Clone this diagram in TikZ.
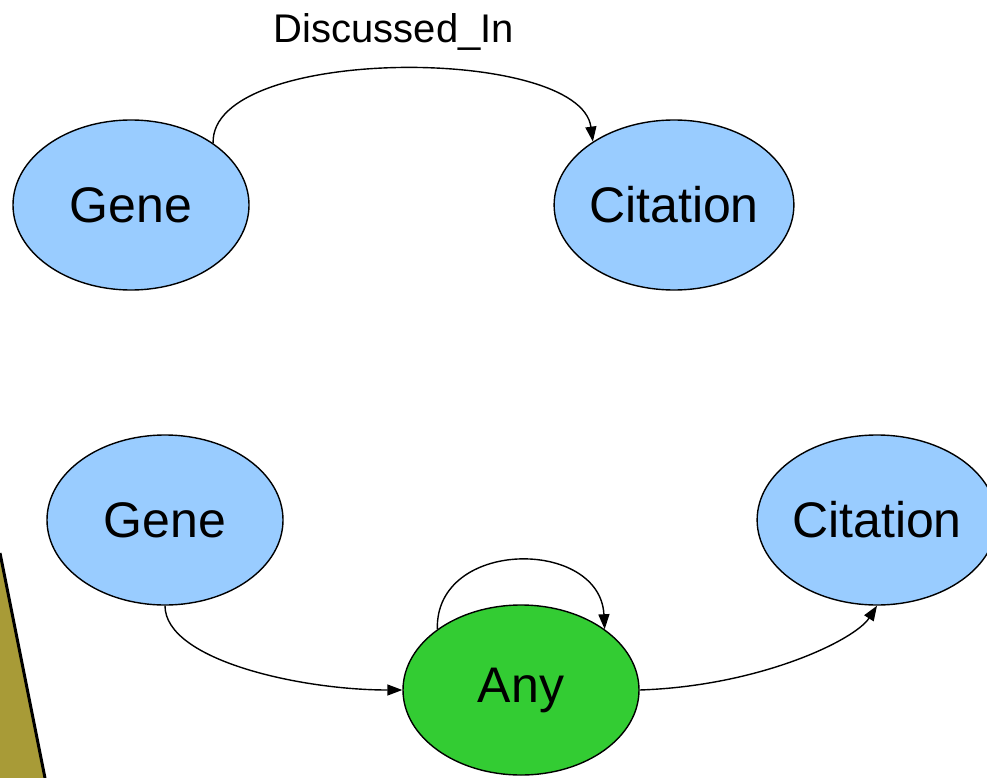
\documentclass[tikz,border=0pt]{standalone}
\usepackage{fontspec}
\setmainfont{Liberation Sans}
\usetikzlibrary{shapes.geometric,arrows.meta}
\definecolor{nodeblue}{HTML}{99CCFF}
\definecolor{nodegreen}{HTML}{33CC33}
\definecolor{olivebar}{HTML}{A89B37}
\tikzset{
  ent/.style={ellipse,draw=black,line width=1.4pt,minimum width=236pt,minimum height=170pt,inner sep=0pt,
    font=\fontsize{50}{60}\selectfont},
  bluent/.style={ent,fill=nodeblue},
  greenent/.style={ent,fill=nodegreen},
  rel/.style={line width=1.4pt,-{Triangle[length=15pt,width=11pt]}},
  lbl/.style={font=\fontsize{40}{48}\selectfont,inner sep=0pt}
}
\begin{document}
\begin{tikzpicture}[x=1pt,y=-1pt]
\useasboundingbox (0,0) rectangle (987,778);
\clip (0,0) rectangle (987,778);
\fill[white] (0,0) rectangle (987,778);
% olive bar at bottom left
\fill[olivebar] (0,553) -- (45,778) -- (0,778) -- cycle;
\draw[line width=3pt] (0,553) -- (45,778);
% nodes
\node[bluent] (gene1) at (131,205) {Gene};
\node[bluent] (cit1) at (674,205) {Citation};
\node[bluent] (gene2) at (165,520) {Gene};
\node[bluent] (cit2) at (877,520) {Citation};
\node[greenent] (any) at (521,690) {Any};
\node[lbl] (dlabel) at (394,32) {Discussed\_In};
% connectors
\draw[rel] (gene1.37.7) .. controls (210,45) and (580,45) .. (cit1.142.3);
\draw[rel] (gene2.270) .. controls (165,660) and (300,690) .. (any.180);
\draw[rel] (any.0) .. controls (760,686) and (855,640) .. (cit2.270);
\draw[rel] (any.144.5) .. controls (435,538) and (600,538) .. (any.36.4);
\end{tikzpicture}
\end{document}
